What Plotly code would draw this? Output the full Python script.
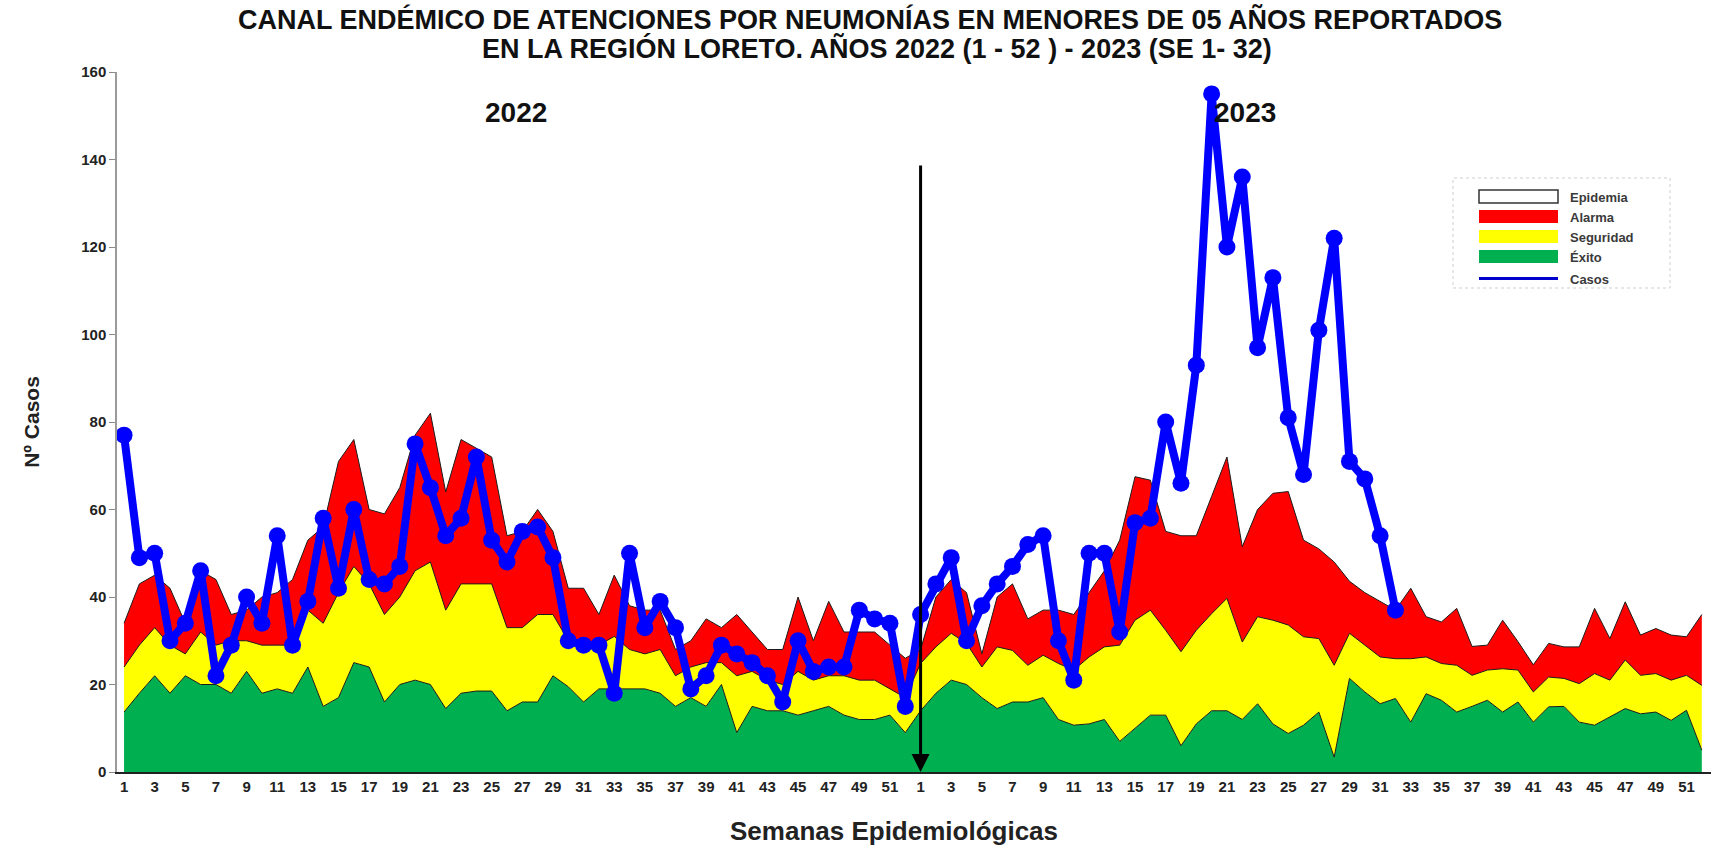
import plotly.graph_objects as go

# Semanas epidemiológicas (categorías del eje X)
semanas_2022 = list(range(1, 53))
semanas_2023 = list(range(1, 53))

# Casos notificados por semana
casos_2022 = [77, 49, 50, 30, 34, 46, 22, 29, 40, 34, 54, 29, 39, 58, 42, 60, 44, 43, 47, 75,
              65, 54, 58, 72, 53, 48, 55, 56, 49, 30, 29, 29, 18, 50, 33, 39, 33, 19, 22, 29,
              27, 25, 22, 16, 30, 23, 24, 24, 37, 35, 34, 15]
casos_2023 = [36, 43, 49, 30, 38, 43, 47, 52, 54, 30, 21, 50, 50, 32, 57, 58, 80, 66, 93, 155,
              120, 136, 97, 113, 81, 68, 101, 122, 71, 67, 54, 37]

# Límites del canal endémico (valores acumulados: techo de cada zona)
exito_2022 = [13.7, 18, 22, 18, 22, 20, 20, 18, 23, 18, 19, 18, 24, 15, 17, 25, 24, 16, 20, 21,
              20, 14.5, 18, 18.5, 18.5, 14, 16, 16, 22, 19.5, 16, 19, 19, 19, 19, 18, 15, 17, 15, 20,
              9, 15, 14, 14, 13, 14, 15, 13, 12, 12, 13, 9]
seguridad_2022 = [24, 29, 33, 29, 27, 32, 29, 30, 30, 29, 29, 29, 37, 34, 41, 47, 43, 36, 40, 46,
                  48, 37, 43, 43, 43, 33, 33, 36, 36, 30, 29, 29, 31, 28, 27, 28, 22, 24, 25, 25,
                  22, 23, 21, 20, 23, 21, 22, 22, 21, 21, 19, 17]
alarma_2022 = [34, 43, 45, 42, 34, 46, 44, 36, 37, 40, 41, 44, 53, 56, 71, 76, 60, 59, 65, 77,
               82, 64, 76, 74, 72, 54, 55, 60, 55, 42, 42, 36, 45, 38, 37, 37, 28, 30, 35, 33,
               36, 32, 28, 28, 40, 30, 39, 32, 32, 32, 29, 26]

exito_2023 = [14, 18, 21, 20, 17, 14.5, 16, 16, 17, 12, 10.7, 11, 12, 7, 10, 13, 13, 6, 11, 14,
              14, 12, 15.6, 11, 8.8, 10.7, 13.7, 3.4, 21.4, 18.3, 15.6, 16.8, 11.4, 17.9, 16.4, 13.7,
              15, 16.4, 13.7, 16, 11.4, 14.9, 15, 11.4, 10.7, 12.6, 14.5, 13.3, 13.7, 11.8, 14.1, 5]
seguridad_2023 = [24.8, 28.6, 31.7, 29.4, 24, 28.6, 27.8, 24.4, 26.7, 24.8, 23.3, 26.3, 28.6, 29,
                  34.7, 37, 32.4, 27.5, 32.4, 36.2, 39.7, 29.7, 35.5, 34.7, 33.6, 30.9, 30.5, 24.4,
                  31.7, 29, 26.3, 25.9, 25.9, 26.3, 24.8, 24.4, 22.1, 23.3, 23.6, 23.3, 18.3, 21.7,
                  21.4, 20.2, 22.5, 21, 25.6, 22.1, 22.5, 21, 22.1, 19.8]
alarma_2023 = [28, 40, 44, 41, 27, 40, 43, 35, 37, 37, 36, 41, 46, 53, 67.5, 66.7, 55, 54, 54, 63,
               72, 51.5, 60, 63.7, 64.1, 53, 51, 48, 43.6, 41, 39, 37, 42, 35.5, 34.3, 37.4, 28.7,
               29, 34.7, 29.8, 24.5, 29.4, 28.6, 28.6, 37.4, 30.5, 38.9, 31.3, 32.8, 31.3, 30.9, 36]

# Leyenda: nombre de zona y color
zonas = ["Epidemia", "Alarma", "Seguridad", "Éxito"]
colores_zona = ["#FFFFFF", "#FF0000", "#FFFF00", "#00B050"]
COLOR_CASOS = "#0000FF"

FONT = "Liberation Sans, Arial, sans-serif"

exito = exito_2022 + exito_2023
seguridad = seguridad_2022 + seguridad_2023
alarma = alarma_2022 + alarma_2023
casos = casos_2022 + casos_2023
semanas = semanas_2022 + semanas_2023

x_all = list(range(len(exito)))
x_casos = list(range(len(casos)))
inicio_2023 = len(semanas_2022)

edge = dict(color="#1b1b1b", width=1)

fig = go.Figure()
fig.add_trace(go.Scatter(x=x_all, y=exito, mode="lines", line=edge, fill="tozeroy",
                         fillcolor=colores_zona[3], name=zonas[3]))
fig.add_trace(go.Scatter(x=x_all, y=seguridad, mode="lines", line=edge, fill="tonexty",
                         fillcolor=colores_zona[2], name=zonas[2]))
fig.add_trace(go.Scatter(x=x_all, y=alarma, mode="lines", line=edge, fill="tonexty",
                         fillcolor=colores_zona[1], name=zonas[1]))
fig.add_trace(go.Scatter(x=x_casos, y=casos, mode="lines+markers",
                         line=dict(color=COLOR_CASOS, width=8),
                         marker=dict(size=17, color=COLOR_CASOS),
                         name="Casos"))

# Geometría del área de trazado (px) para ubicar textos y leyenda
W, H = 1721, 845
ML, MR, MT, MB = 117, 10, 72, 73
PW, PH = W - ML - MR, H - MT - MB


def px(xp):
    return (xp - ML) / PW


def py(yp):
    return (H - MB - yp) / PH


x_range = [-0.46, 103.6]

annotations = [
    dict(x=px(870), y=py(19), xref="paper", yref="paper", showarrow=False,
         text="<b>CANAL ENDÉMICO DE ATENCIONES POR NEUMONÍAS EN MENORES DE 05 AÑOS REPORTADOS</b>",
         font=dict(size=27, family=FONT, color="#111111"), yanchor="middle"),
    dict(x=px(877), y=py(49), xref="paper", yref="paper", showarrow=False,
         text="<b>EN LA REGIÓN LORETO. AÑOS 2022 (1 - 52 ) - 2023 (SE 1- 32)</b>",
         font=dict(size=27, family=FONT, color="#111111"), yanchor="middle"),
    # Título del eje X
    dict(x=px(894), y=py(831), xref="paper", yref="paper", showarrow=False,
         text="<b>Semanas Epidemiológicas</b>", yanchor="middle",
         font=dict(size=26, family=FONT, color="#222222")),
    dict(x=25.6, y=150.7, xref="x", yref="y", text="<b>2022</b>", showarrow=False,
         font=dict(size=28, family=FONT, color="#111111")),
    dict(x=73.2, y=150.7, xref="x", yref="y", text="<b>2023</b>", showarrow=False,
         font=dict(size=28, family=FONT, color="#111111")),
    # Separación entre años
    dict(x=inicio_2023, y=0, xref="x", yref="y", ax=inicio_2023, ay=139,
         axref="x", ayref="y", showarrow=True, arrowhead=2, arrowsize=1.2,
         arrowwidth=3, arrowcolor="#000000", text=""),
]

# Leyenda dibujada como recuadro con muestras de color
shapes = [dict(type="rect", xref="paper", yref="paper",
               x0=px(1453), x1=px(1670), y0=py(288), y1=py(178),
               line=dict(color="#cfcfcf", width=1, dash="dot"), fillcolor="white", layer="above")]
sw_x0, sw_x1, txt_x = 1479, 1558, 1568
for i, (nombre, color) in enumerate(zip(zonas, colores_zona)):
    top = 190 + 20 * i
    shapes.append(dict(type="rect", xref="paper", yref="paper",
                       x0=px(sw_x0), x1=px(sw_x1), y0=py(top + 13), y1=py(top),
                       fillcolor=color,
                       line=dict(color="#333333" if i == 0 else color, width=1.5 if i == 0 else 0),
                       layer="above"))
    annotations.append(dict(x=px(txt_x), y=py(top + 7), xref="paper", yref="paper",
                            text=f"<b>{nombre}</b>", showarrow=False, xanchor="left", yanchor="middle",
                            font=dict(size=13, family=FONT, color="#3a3a3a")))
shapes.append(dict(type="line", xref="paper", yref="paper",
                   x0=px(sw_x0), x1=px(sw_x1), y0=py(278.5), y1=py(278.5),
                   line=dict(color="#0000CC", width=3), layer="above"))
annotations.append(dict(x=px(txt_x), y=py(279), xref="paper", yref="paper",
                        text="<b>Casos</b>", showarrow=False, xanchor="left", yanchor="middle",
                        font=dict(size=13, family=FONT, color="#3a3a3a")))

fig.update_layout(
    width=W, height=H,
    margin=dict(l=ML, r=MR, t=MT, b=MB),
    plot_bgcolor="white", paper_bgcolor="white",
    font=dict(family=FONT, color="#1a1a1a"),
    showlegend=False,
    xaxis=dict(
        range=x_range, showgrid=False, zeroline=False,
        tickmode="array",
        tickvals=x_all[::2],
        ticktext=[str(s) for s in semanas[::2]],
        ticks="", showline=True, linecolor="#222222", linewidth=1.5,
        tickfont=dict(size=15, family=FONT, color="#222222", weight="bold"),
    ),
    xaxis2=dict(
        range=x_range, overlaying="x", matches="x", side="bottom", anchor="y",
        showgrid=False, zeroline=False, showticklabels=False,
        tickmode="array", tickvals=[i + 0.5 for i in x_all],
        ticks="outside", ticklen=6, tickcolor="#222222", tickwidth=1.5,
    ),
    yaxis=dict(
        range=[0, 160], dtick=20, showgrid=False, zeroline=False,
        ticks="outside", ticklen=6, tickcolor="#888888",
        showline=True, linecolor="#9a9a9a", linewidth=1.5,
        tickfont=dict(size=15, family=FONT, color="#222222", weight="bold"),
        title=dict(text="<b>Nº Casos</b>", font=dict(size=21, family=FONT, color="#222222"),
                   standoff=36),
    ),
    annotations=annotations,
    shapes=shapes,
)

fig.write_html("out.html")
